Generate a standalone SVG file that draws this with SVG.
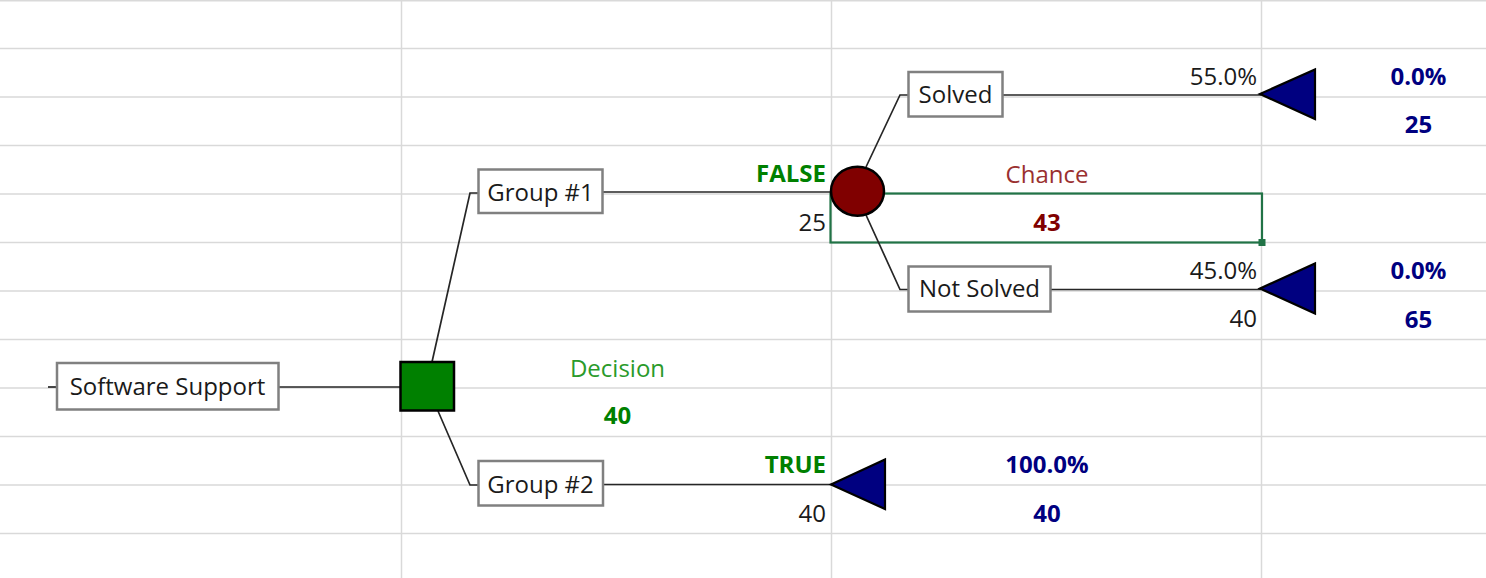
<svg xmlns="http://www.w3.org/2000/svg" width="1486" height="578" viewBox="0 0 1486 578">
<style>
.grid{stroke:#d9d9d9;stroke-width:1.5;fill:none}
.conn{stroke:#262626;stroke-width:1.7;fill:none}
.box{fill:#ffffff;stroke:#808080;stroke-width:2.5}
.lbl{font-family:"Open Sans","Liberation Sans",sans-serif;font-size:24px;fill:#1a1a1a}
.c{text-anchor:middle}
.r{text-anchor:end}
.b{font-weight:bold}
.green{fill:#008000}
.lgreen{fill:#2a9a2a}
.navy{fill:#000080}
.maroon{fill:#800000}
.red{fill:#9a3030}
.term{fill:#000080;stroke:#000;stroke-width:2.2;stroke-linejoin:miter}
</style>
<rect width="1486" height="578" fill="#ffffff"/>
<g id="grid">
<line class="grid" x1="0" y1="0.8" x2="1486" y2="0.8"/>
<line class="grid" x1="0" y1="48.5" x2="1486" y2="48.5"/>
<line class="grid" x1="0" y1="97" x2="1486" y2="97"/>
<line class="grid" x1="0" y1="145.5" x2="1486" y2="145.5"/>
<line class="grid" x1="0" y1="194" x2="1486" y2="194"/>
<line class="grid" x1="0" y1="242.5" x2="1486" y2="242.5"/>
<line class="grid" x1="0" y1="291" x2="1486" y2="291"/>
<line class="grid" x1="0" y1="339.5" x2="1486" y2="339.5"/>
<line class="grid" x1="0" y1="388" x2="1486" y2="388"/>
<line class="grid" x1="0" y1="436.5" x2="1486" y2="436.5"/>
<line class="grid" x1="0" y1="485" x2="1486" y2="485"/>
<line class="grid" x1="0" y1="533.5" x2="1486" y2="533.5"/>
<line class="grid" x1="401.5" y1="0" x2="401.5" y2="578"/>
<line class="grid" x1="831.5" y1="0" x2="831.5" y2="578"/>
<line class="grid" x1="1261.5" y1="0" x2="1261.5" y2="578"/>
</g>
<g id="selection">
<rect x="830.5" y="193.5" width="431.5" height="49" fill="none" stroke="#217346" stroke-width="2.2"/>
<rect x="1258.5" y="239" width="7" height="7" fill="#217346"/>
</g>
<g id="connectors">
<line class="conn" x1="48" y1="387" x2="57" y2="387"/>
<line class="conn" x1="279" y1="387" x2="400" y2="387"/>
<polyline class="conn" points="432,362 470,193 478,193"/>
<polyline class="conn" points="438,411 470,485 478,485"/>
<line class="conn" x1="603" y1="192" x2="832" y2="192"/>
<line class="conn" x1="603" y1="484.5" x2="831" y2="484.5"/>
<polyline class="conn" points="866,167 900,95 908,95"/>
<polyline class="conn" points="866,215 900,289.5 908,289.5"/>
<line class="conn" x1="1003" y1="95" x2="1261" y2="95"/>
<line class="conn" x1="1051" y1="289.5" x2="1261" y2="289.5"/>
</g>
<g id="root">
<rect class="box" x="57" y="363" width="221.5" height="46.5"/>
<text class="lbl c" x="167.5" y="395">Software Support</text>
</g>
<g id="decision">
<rect x="400.5" y="362" width="53.5" height="48.5" fill="#008000" stroke="#000" stroke-width="2.5"/>
<text class="lbl c lgreen" x="617.5" y="376.5">Decision</text>
<text class="lbl c b green" x="617.5" y="424">40</text>
</g>
<g id="group1">
<rect class="box" x="478.5" y="169.5" width="124" height="43.5"/>
<text class="lbl c" x="540.5" y="200.5">Group #1</text>
<text class="lbl r b green" x="826" y="182">FALSE</text>
<text class="lbl r" x="826" y="231">25</text>
</g>
<g id="chance">
<ellipse cx="857.5" cy="191.2" rx="26.5" ry="24.5" fill="#800000" stroke="#000" stroke-width="2.5"/>
<text class="lbl c red" x="1047" y="182.5">Chance</text>
<text class="lbl c b maroon" x="1047" y="231">43</text>
</g>
<g id="solved">
<rect class="box" x="908.5" y="72" width="94" height="44.5"/>
<text class="lbl c" x="955.5" y="102.8">Solved</text>
<text class="lbl r" x="1257" y="84.8">55.0%</text>
</g>
<g id="solved-end">
<polygon class="term" points="1260,94 1315,69.5 1315,119"/>
<text class="lbl c b navy" x="1418.5" y="84.8">0.0%</text>
<text class="lbl c b navy" x="1418.5" y="132.5">25</text>
</g>
<g id="notsolved">
<rect class="box" x="908.5" y="266.5" width="142" height="45"/>
<text class="lbl c" x="979.5" y="297.2">Not Solved</text>
<text class="lbl r" x="1257" y="278.8">45.0%</text>
<text class="lbl r" x="1257" y="327.2">40</text>
</g>
<g id="notsolved-end">
<polygon class="term" points="1260,288.5 1315,263.5 1315,313.5"/>
<text class="lbl c b navy" x="1418.5" y="278.8">0.0%</text>
<text class="lbl c b navy" x="1418.5" y="327.5">65</text>
</g>
<g id="group2">
<rect class="box" x="478.5" y="461" width="124.5" height="44.5"/>
<text class="lbl c" x="540.5" y="492.5">Group #2</text>
<text class="lbl r b green" x="826" y="473">TRUE</text>
<text class="lbl r" x="826" y="521.5">40</text>
</g>
<g id="group2-end">
<polygon class="term" points="831,484.5 885,459.5 885,509"/>
<text class="lbl c b navy" x="1047" y="473">100.0%</text>
<text class="lbl c b navy" x="1047" y="521.5">40</text>
</g>
</svg>
